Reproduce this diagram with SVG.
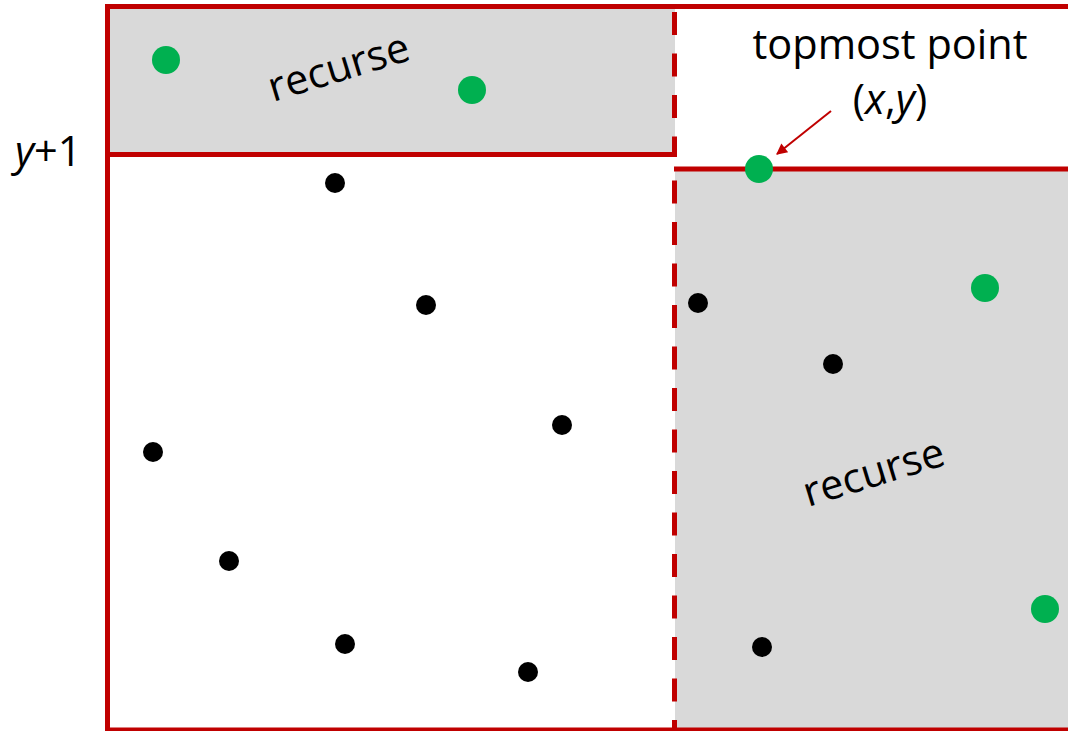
<svg xmlns="http://www.w3.org/2000/svg" width="1068" height="731" viewBox="0 0 1068 731">
  <style>
    .region { fill: #D9D9D9; stroke: none; }
    .wall { stroke: #C00000; stroke-width: 5; fill: none; }
    .split { stroke: #C00000; stroke-width: 5; fill: none; stroke-dasharray: 23 18.5; }
    .pt { fill: #000000; }
    .hit { fill: #00B050; }
    .lbl { font-family: "Open Sans", "Liberation Sans", sans-serif; font-size: 41.5px; fill: #000000; }
  </style>
  <defs>
    <marker id="arrowhead" viewBox="0 0 10 10" refX="9" refY="5" markerWidth="7.5" markerHeight="5.5" orient="auto" markerUnits="strokeWidth">
      <path d="M0,0 L10,5 L0,10 z" fill="#C00000"/>
    </marker>
  </defs>

  <rect width="1068" height="731" fill="#FFFFFF"/>

  <!-- shaded recursion regions -->
  <g id="region-upper-left">
    <rect class="region" x="107" y="7" width="568" height="147"/>
  </g>
  <g id="region-lower-right">
    <rect class="region" x="675" y="169" width="400" height="565"/>
  </g>

  <!-- boundary lines -->
  <g id="connectors">
    <!-- outer frame -->
    <polyline class="wall" points="1075,6.5 107.5,6.5 107.5,730 1075,730"/>
    <!-- y+1 boundary of upper-left region -->
    <line class="wall" x1="107.5" y1="154.5" x2="677" y2="154.5"/>
    <!-- horizontal line through the topmost point -->
    <line class="wall" x1="674" y1="169" x2="1075" y2="169"/>
    <!-- vertical split at x -->
    <line class="split" x1="674.5" y1="9" x2="674.5" y2="154" stroke-dashoffset="-3"/>
    <line class="split" x1="674.5" y1="172" x2="674.5" y2="731" stroke-dashoffset="33"/>
    <!-- pointer to the topmost point -->
    <line x1="831" y1="111" x2="777" y2="154" stroke="#C00000" stroke-width="2" marker-end="url(#arrowhead)"/>
  </g>

  <!-- points -->
  <g id="points">
    <circle class="hit" cx="166" cy="60" r="14"/>
    <circle class="hit" cx="472" cy="90" r="14"/>
    <circle class="hit" cx="759" cy="169" r="14"/>
    <circle class="hit" cx="985" cy="288" r="14"/>
    <circle class="hit" cx="1045" cy="609" r="14"/>
    <circle class="pt" cx="335" cy="183" r="10"/>
    <circle class="pt" cx="426" cy="305" r="10"/>
    <circle class="pt" cx="562" cy="425" r="10"/>
    <circle class="pt" cx="153" cy="452" r="10"/>
    <circle class="pt" cx="229" cy="561" r="10"/>
    <circle class="pt" cx="345" cy="644" r="10"/>
    <circle class="pt" cx="528" cy="672" r="10"/>
    <circle class="pt" cx="698" cy="303" r="10"/>
    <circle class="pt" cx="833" cy="364" r="10"/>
    <circle class="pt" cx="762" cy="647" r="10"/>
  </g>

  <!-- labels -->
  <g id="label-recurse-upper">
    <text class="lbl" transform="translate(273,102) rotate(-17)">recurse</text>
  </g>
  <g id="label-recurse-lower">
    <text class="lbl" transform="translate(808,507) rotate(-17)">recurse</text>
  </g>
  <g id="label-topmost">
    <text class="lbl" x="890" y="59" text-anchor="middle">topmost point</text>
    <text class="lbl" x="890" y="114" text-anchor="middle">(<tspan font-style="italic">x</tspan>,<tspan font-style="italic">y</tspan>)</text>
  </g>
  <g id="label-y-plus-1">
    <text class="lbl" x="15" y="166"><tspan font-style="italic">y</tspan>+1</text>
  </g>
</svg>
